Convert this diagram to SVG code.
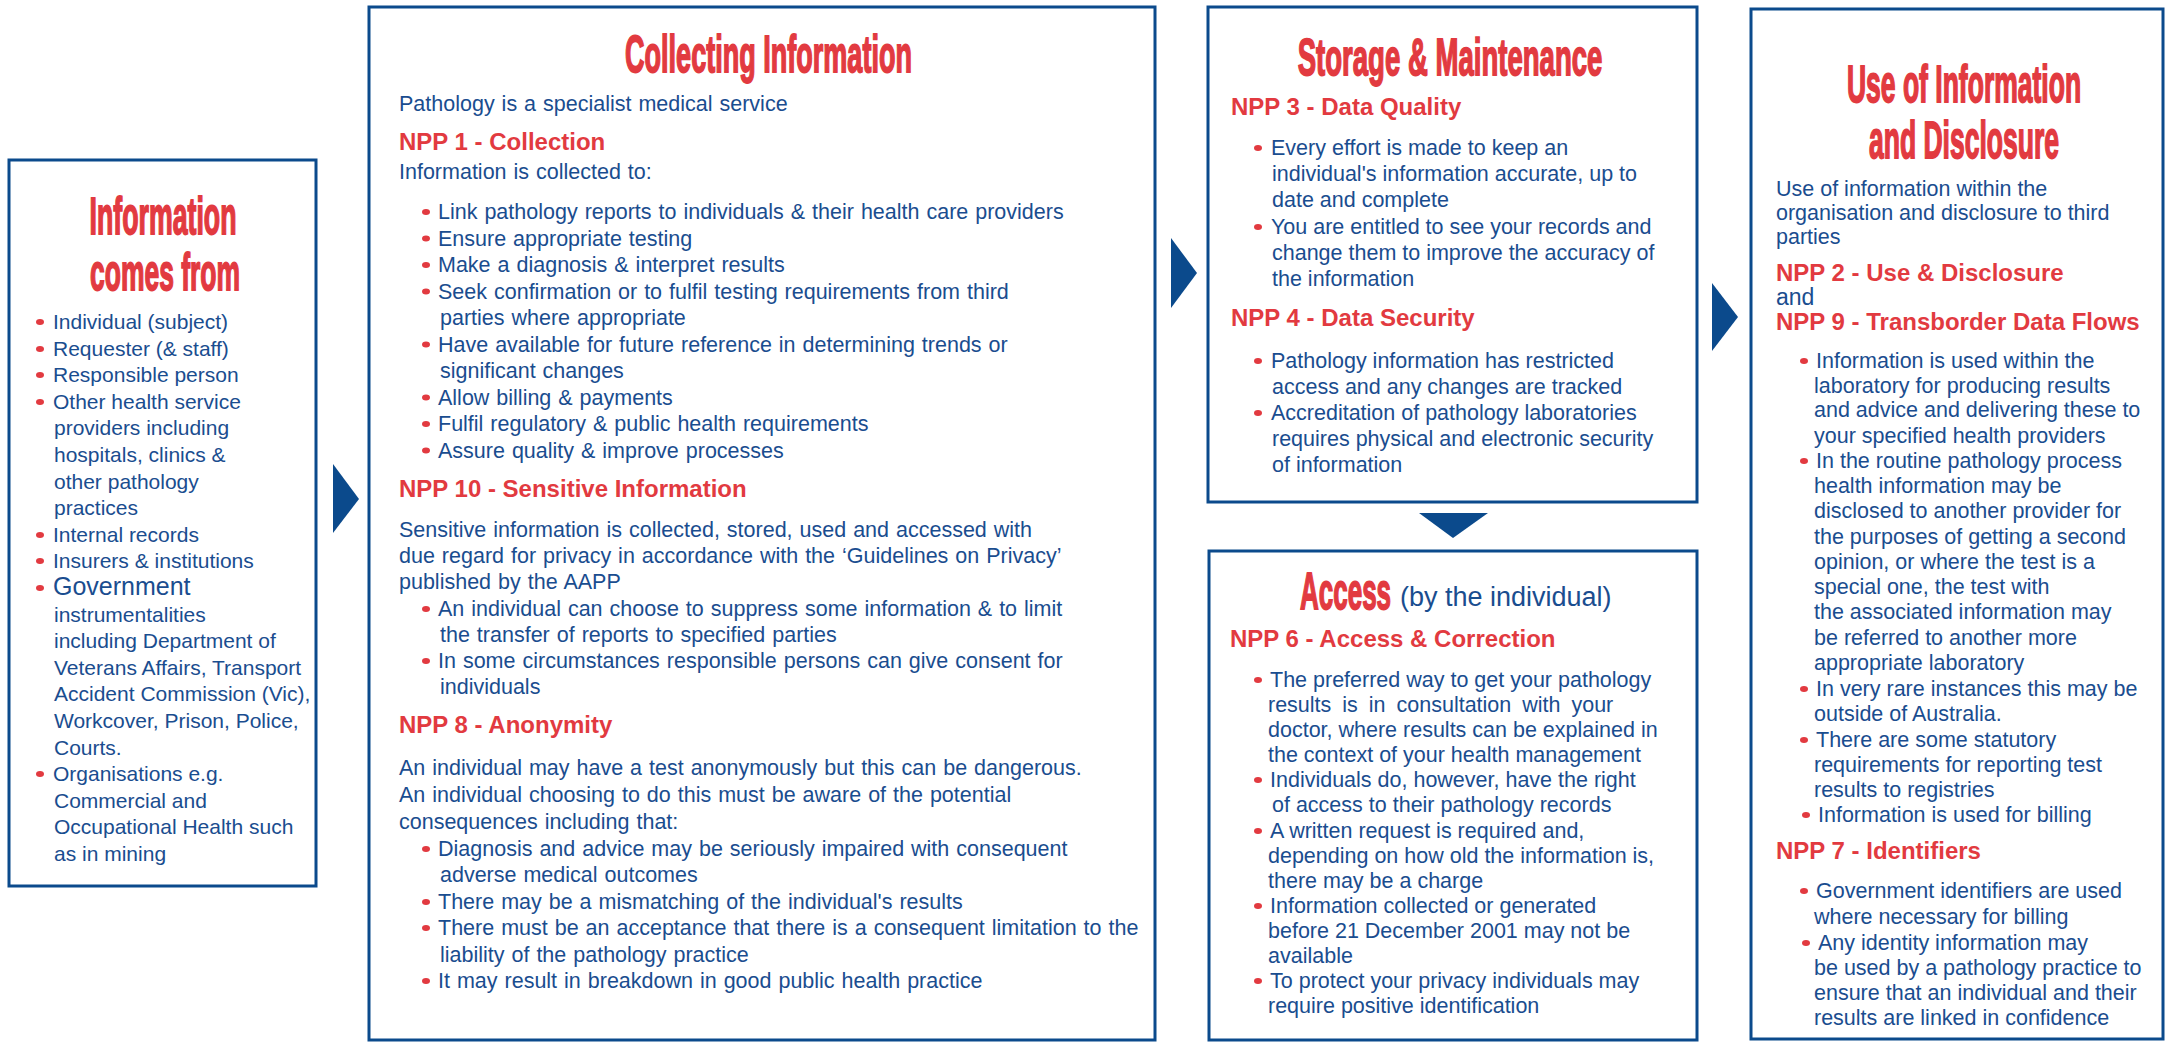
<svg xmlns="http://www.w3.org/2000/svg" xmlns:xlink="http://www.w3.org/1999/xlink" width="2167" height="1042" viewBox="0 0 2167 1042">
<style>
.box{fill:#fff;stroke:#0b4a8c;stroke-width:3}
text{font-family:"Liberation Sans",Arial,sans-serif}
.t{fill:#1a4d8f;font-size:21px}
.t2{fill:#1a4d8f;font-size:21.5px;word-spacing:1px}
.t5{fill:#1a4d8f;font-size:21.5px}
.h{fill:#e23a40;font-size:24px;font-weight:bold}
.ti{fill:#e23a40;font-size:52px;font-weight:bold;stroke:#e23a40;stroke-width:1.4px;vector-effect:non-scaling-stroke}
.arr{fill:#0b4a8c}
</style>
<defs>
<ellipse id="d" cx="0" cy="0" rx="4" ry="3" fill="#e23a40"/>
</defs>
<rect width="2167" height="1042" fill="#fff"/>

<g id="connectors">
<polygon class="arr" points="333,464 359,499 333,533"/>
<polygon class="arr" points="1171,238 1197,273 1171,308"/>
<polygon class="arr" points="1712,283 1738,317 1712,351"/>
<polygon class="arr" points="1419,513 1488,513 1453,538"/>
</g>

<g id="node-source">
<rect class="box" x="9" y="160" width="307" height="726"/>
<text class="ti" transform="translate(163,234) scale(0.514,1)" text-anchor="middle" vector-effect="non-scaling-stroke">Information</text>
<text class="ti" transform="translate(165,290) scale(0.509,1)" text-anchor="middle" vector-effect="non-scaling-stroke">comes from</text>
<use xlink:href="#d" x="40" y="322"/>
<use xlink:href="#d" x="40" y="349"/>
<use xlink:href="#d" x="40" y="375"/>
<use xlink:href="#d" x="40" y="402"/>
<use xlink:href="#d" x="40" y="535"/>
<use xlink:href="#d" x="40" y="561"/>
<use xlink:href="#d" x="40" y="588"/>
<use xlink:href="#d" x="40" y="774"/>
<text class="t" x="53" y="329">Individual (subject)</text>
<text class="t" x="53" y="356">Requester (&amp; staff)</text>
<text class="t" x="53" y="382">Responsible person</text>
<text class="t" x="53" y="409">Other health service</text>
<text class="t" x="54" y="435">providers including</text>
<text class="t" x="54" y="462">hospitals, clinics &amp;</text>
<text class="t" x="54" y="489">other pathology</text>
<text class="t" x="54" y="515">practices</text>
<text class="t" x="53" y="542">Internal records</text>
<text class="t" x="53" y="568">Insurers &amp; institutions</text>
<text class="t" x="53" y="595" style="font-size:25px">Government</text>
<text class="t" x="54" y="622">instrumentalities</text>
<text class="t" x="54" y="648">including Department of</text>
<text class="t" x="54" y="675">Veterans Affairs, Transport</text>
<text class="t" x="54" y="701">Accident Commission (Vic),</text>
<text class="t" x="54" y="728">Workcover, Prison, Police,</text>
<text class="t" x="54" y="755">Courts.</text>
<text class="t" x="53" y="781">Organisations e.g.</text>
<text class="t" x="54" y="808">Commercial and</text>
<text class="t" x="54" y="834">Occupational Health such</text>
<text class="t" x="54" y="861">as in mining</text>
</g>

<g id="node-collecting">
<rect class="box" x="369" y="7" width="786" height="1033"/>
<text class="ti" transform="translate(768.5,72) scale(0.52,1)" text-anchor="middle">Collecting Information</text>
<text class="t2" x="399" y="111">Pathology is a specialist medical service</text>
<text class="h" x="399" y="150">NPP 1 - Collection</text>
<text class="t2" x="399" y="179">Information is collected to:</text>
<use xlink:href="#d" x="426" y="212"/>
<use xlink:href="#d" x="426" y="238.5"/>
<use xlink:href="#d" x="426" y="265"/>
<use xlink:href="#d" x="426" y="291.5"/>
<use xlink:href="#d" x="426" y="344.5"/>
<use xlink:href="#d" x="426" y="397.5"/>
<use xlink:href="#d" x="426" y="424"/>
<use xlink:href="#d" x="426" y="450.5"/>
<text class="t2" x="438" y="219">Link pathology reports to individuals &amp; their health care providers</text>
<text class="t2" x="438" y="245.5">Ensure appropriate testing</text>
<text class="t2" x="438" y="272">Make a diagnosis &amp; interpret results</text>
<text class="t2" x="438" y="298.5">Seek confirmation or to fulfil testing requirements from third</text>
<text class="t2" x="440" y="325">parties where appropriate</text>
<text class="t2" x="438" y="351.5">Have available for future reference in determining trends or</text>
<text class="t2" x="440" y="378">significant changes</text>
<text class="t2" x="438" y="404.5">Allow billing &amp; payments</text>
<text class="t2" x="438" y="431">Fulfil regulatory &amp; public health requirements</text>
<text class="t2" x="438" y="457.5">Assure quality &amp; improve processes</text>
<text class="h" x="399" y="497">NPP 10 - Sensitive Information</text>
<text class="t2" x="399" y="537">Sensitive information is collected, stored, used and accessed with</text>
<text class="t2" x="399" y="563">due regard for privacy in accordance with the ‘Guidelines on Privacy’</text>
<text class="t2" x="399" y="589">published by the AAPP</text>
<use xlink:href="#d" x="426" y="609"/>
<use xlink:href="#d" x="426" y="661"/>
<text class="t2" x="438" y="616">An individual can choose to suppress some information &amp; to limit</text>
<text class="t2" x="440" y="642">the transfer of reports to specified parties</text>
<text class="t2" x="438" y="668">In some circumstances responsible persons can give consent for</text>
<text class="t2" x="440" y="694">individuals</text>
<text class="h" x="399" y="733">NPP 8 - Anonymity</text>
<text class="t2" x="399" y="775">An individual may have a test anonymously but this can be dangerous.</text>
<text class="t2" x="399" y="802">An individual choosing to do this must be aware of the potential</text>
<text class="t2" x="399" y="829">consequences including that:</text>
<use xlink:href="#d" x="426" y="849"/>
<use xlink:href="#d" x="426" y="902"/>
<use xlink:href="#d" x="426" y="928"/>
<use xlink:href="#d" x="426" y="981"/>
<text class="t2" x="438" y="856">Diagnosis and advice may be seriously impaired with consequent</text>
<text class="t2" x="440" y="882">adverse medical outcomes</text>
<text class="t2" x="438" y="909">There may be a mismatching of the individual's results</text>
<text class="t2" x="438" y="935">There must be an acceptance that there is a consequent limitation to the</text>
<text class="t2" x="440" y="962">liability of the pathology practice</text>
<text class="t2" x="438" y="988">It may result in breakdown in good public health practice</text>
</g>

<g id="node-storage">
<rect class="box" x="1208" y="7" width="489" height="495"/>
<text class="ti" transform="translate(1450,75) scale(0.53,1)" text-anchor="middle">Storage &amp; Maintenance</text>
<text class="h" x="1231" y="115">NPP 3 - Data Quality</text>
<use xlink:href="#d" x="1258" y="148"/>
<use xlink:href="#d" x="1258" y="227"/>
<text class="t5" x="1271" y="155">Every effort is made to keep an</text>
<text class="t5" x="1272" y="181">individual's information accurate, up to</text>
<text class="t5" x="1272" y="207">date and complete</text>
<text class="t5" x="1271" y="234">You are entitled to see your records and</text>
<text class="t5" x="1272" y="260">change them to improve the accuracy of</text>
<text class="t5" x="1272" y="286">the information</text>
<text class="h" x="1231" y="326">NPP 4 - Data Security</text>
<use xlink:href="#d" x="1258" y="361"/>
<use xlink:href="#d" x="1258" y="413"/>
<text class="t5" x="1271" y="368">Pathology information has restricted</text>
<text class="t5" x="1272" y="394">access and any changes are tracked</text>
<text class="t5" x="1271" y="420">Accreditation of pathology laboratories</text>
<text class="t5" x="1272" y="446">requires physical and electronic security</text>
<text class="t5" x="1272" y="472">of information</text>
</g>

<g id="node-access">
<rect class="box" x="1209" y="551" width="488" height="489"/>
<text class="ti" transform="translate(1300,609) scale(0.5,1)">Access</text>
<text class="t5" x="1400" y="606" style="font-size:27px">(by the individual)</text>
<text class="h" x="1230" y="647">NPP 6 - Access &amp; Correction</text>
<use xlink:href="#d" x="1258" y="680"/>
<use xlink:href="#d" x="1258" y="780"/>
<use xlink:href="#d" x="1258" y="831"/>
<use xlink:href="#d" x="1258" y="906"/>
<use xlink:href="#d" x="1258" y="981"/>
<text class="t5" x="1270" y="687">The preferred way to get your pathology</text>
<text class="t5" x="1268" y="712" style="word-spacing:5px">results is in consultation with your</text>
<text class="t5" x="1268" y="737">doctor, where results can be explained in</text>
<text class="t5" x="1268" y="762">the context of your health management</text>
<text class="t5" x="1270" y="787">Individuals do, however, have the right</text>
<text class="t5" x="1272" y="812">of access to their pathology records</text>
<text class="t5" x="1270" y="838">A written request is required and,</text>
<text class="t5" x="1268" y="863">depending on how old the information is,</text>
<text class="t5" x="1268" y="888">there may be a charge</text>
<text class="t5" x="1270" y="913">Information collected or generated</text>
<text class="t5" x="1268" y="938">before 21 December 2001 may not be</text>
<text class="t5" x="1268" y="963">available</text>
<text class="t5" x="1270" y="988">To protect your privacy individuals may</text>
<text class="t5" x="1268" y="1013">require positive identification</text>
</g>

<g id="node-use">
<rect class="box" x="1751" y="9" width="412" height="1030"/>
<text class="ti" transform="translate(1964,102) scale(0.51,1)" text-anchor="middle">Use of Information</text>
<text class="ti" transform="translate(1964,158) scale(0.51,1)" text-anchor="middle">and Disclosure</text>
<text class="t5" x="1776" y="196">Use of information within the</text>
<text class="t5" x="1776" y="220">organisation and disclosure to third</text>
<text class="t5" x="1776" y="244">parties</text>
<text class="h" x="1776" y="281">NPP 2 - Use &amp; Disclosure</text>
<text class="t5" x="1776" y="305" style="font-size:23px">and</text>
<text class="h" x="1776" y="330">NPP 9 - Transborder Data Flows</text>
<use xlink:href="#d" x="1804" y="361"/>
<use xlink:href="#d" x="1804" y="461"/>
<use xlink:href="#d" x="1804" y="689"/>
<use xlink:href="#d" x="1804" y="740"/>
<use xlink:href="#d" x="1806" y="815"/>
<text class="t5" x="1816" y="368">Information is used within the</text>
<text class="t5" x="1814" y="393">laboratory for producing results</text>
<text class="t5" x="1814" y="417">and advice and delivering these to</text>
<text class="t5" x="1814" y="443">your specified health providers</text>
<text class="t5" x="1816" y="468">In the routine pathology process</text>
<text class="t5" x="1814" y="493">health information may be</text>
<text class="t5" x="1814" y="518">disclosed to another provider for</text>
<text class="t5" x="1814" y="544">the purposes of getting a second</text>
<text class="t5" x="1814" y="569">opinion, or where the test is a</text>
<text class="t5" x="1814" y="594">special one, the test with</text>
<text class="t5" x="1814" y="619">the associated information may</text>
<text class="t5" x="1814" y="645">be referred to another more</text>
<text class="t5" x="1814" y="670">appropriate laboratory</text>
<text class="t5" x="1816" y="696">In very rare instances this may be</text>
<text class="t5" x="1814" y="721">outside of Australia.</text>
<text class="t5" x="1816" y="747">There are some statutory</text>
<text class="t5" x="1814" y="772">requirements for reporting test</text>
<text class="t5" x="1814" y="797">results to registries</text>
<text class="t5" x="1818" y="822">Information is used for billing</text>
<text class="h" x="1776" y="859">NPP 7 - Identifiers</text>
<use xlink:href="#d" x="1804" y="891"/>
<use xlink:href="#d" x="1806" y="943"/>
<text class="t5" x="1816" y="898">Government identifiers are used</text>
<text class="t5" x="1814" y="924">where necessary for billing</text>
<text class="t5" x="1818" y="950">Any identity information may</text>
<text class="t5" x="1814" y="975">be used by a pathology practice to</text>
<text class="t5" x="1814" y="1000">ensure that an individual and their</text>
<text class="t5" x="1814" y="1025">results are linked in confidence</text>
</g>
</svg>
